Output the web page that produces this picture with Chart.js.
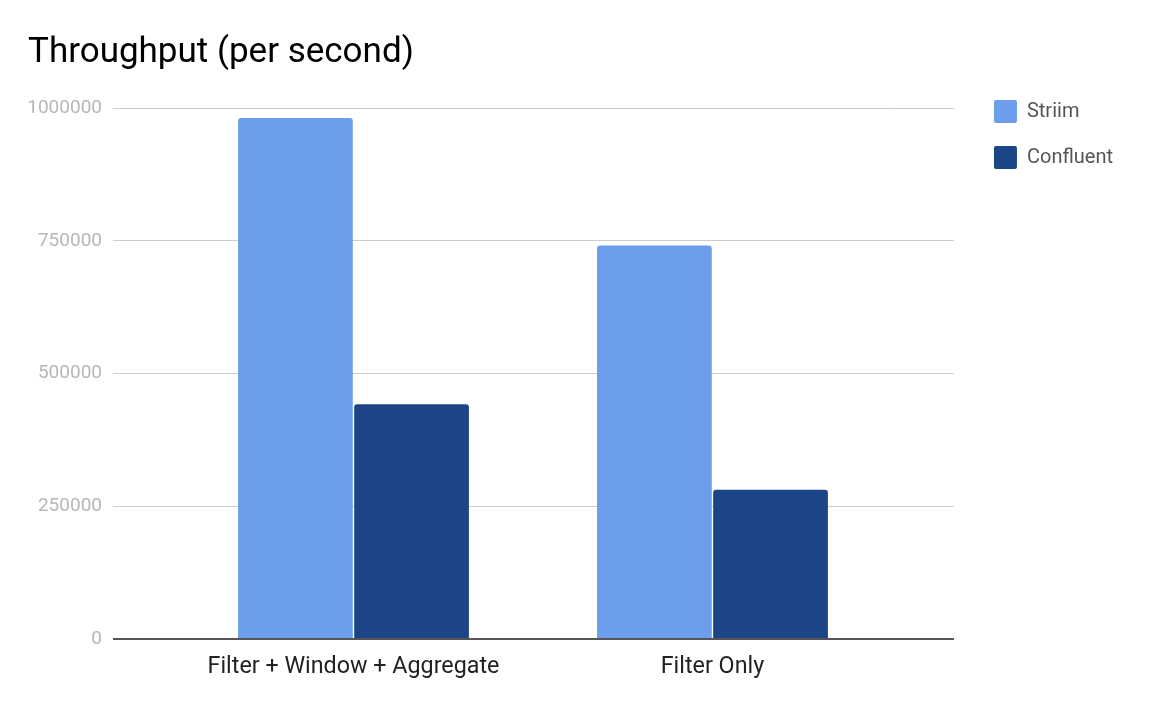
<!DOCTYPE html>
<html>
<head>
<meta charset="utf-8">
<title>Throughput (per second)</title>
<script src="https://cdn.jsdelivr.net/npm/chart.js@4"></script>
<style>
    html, body { margin: 0; padding: 0; background: #fff; }
    #wrap { position: relative; width: 1154px; height: 722px; }
</style>
</head>
<body>
<div id="wrap"><canvas id="throughputChart"></canvas></div>
<script>
const categories = ['Filter + Window + Aggregate', 'Filter Only'];
const striimValues = [981000, 741000];
const confluentValues = [442000, 281000];
const yTickValues = [0, 250000, 500000, 750000, 1000000];

let throughputChart = null;

document.addEventListener('DOMContentLoaded', () => {
    renderChart();
});

function renderChart() {
    const ctx = document.getElementById('throughputChart').getContext('2d');
    Chart.defaults.font.family = 'Roboto';

    // zero line is darker than the other grid lines
    const gridColor = c => (c.tick && c.tick.value === 0 ? '#555' : '#ccc');
    const gridWidth = c => (c.tick && c.tick.value === 0 ? 2 : 1);
    const setTicks = s => { s.ticks = yTickValues.map(v => ({ value: v })); };

    if (throughputChart) throughputChart.destroy();
    throughputChart = new Chart(ctx, {
        type: 'bar',
        data: {
            labels: categories,
            datasets: [
                {
                    label: 'Striim',
                    data: striimValues,
                    backgroundColor: '#6d9eeb',
                    borderRadius: 3,
                    borderSkipped: 'start'
                },
                {
                    label: 'Confluent',
                    data: confluentValues,
                    backgroundColor: '#1c4587',
                    borderRadius: 3,
                    borderSkipped: 'start'
                }
            ]
        },
        options: {
            responsive: true,
            maintainAspectRatio: false,
            animation: false,
            datasets: { bar: { categoryPercentage: 0.647, barPercentage: 0.988 } },
            layout: { padding: { left: 28, right: 31, top: 0, bottom: 35 } },
            plugins: {
                tooltip: { enabled: false },
                title: {
                    display: true,
                    text: 'Throughput (per second)',
                    align: 'start',
                    color: '#000',
                    font: { size: 35, weight: 'normal', lineHeight: 1.2 },
                    padding: { top: 32, bottom: 34 }
                },
                legend: {
                    position: 'right',
                    align: 'start',
                    title: { display: true, text: '', font: { size: 10, lineHeight: 1.2 }, padding: { top: 65, bottom: 0 } },
                    labels: {
                        boxWidth: 23,
                        boxHeight: 23,
                        padding: 23,
                        useBorderRadius: true,
                        borderRadius: 2,
                        color: '#555',
                        font: { size: 20 }
                    }
                }
            },
            scales: {
                x: {
                    grid: { display: false },
                    border: { display: false },
                    ticks: { color: '#222', font: { size: 23.3 }, padding: 6 }
                },
                y: {
                    min: 0,
                    max: 1000000,
                    afterBuildTicks: setTicks,
                    afterFit: s => { s.width = 146; },
                    border: { display: false },
                    grid: { color: gridColor, lineWidth: gridWidth, tickLength: 61 },
                    ticks: { color: '#b7b7b7', font: { size: 19 }, padding: 11, callback: v => String(v) }
                },
                y2: {
                    position: 'right',
                    min: 0,
                    max: 1000000,
                    afterBuildTicks: setTicks,
                    afterFit: s => { s.width = 79; },
                    border: { display: false },
                    grid: { drawOnChartArea: false, color: gridColor, lineWidth: gridWidth, tickLength: 62 },
                    ticks: { display: false }
                }
            }
        }
    });
}
</script>
</body>
</html>
